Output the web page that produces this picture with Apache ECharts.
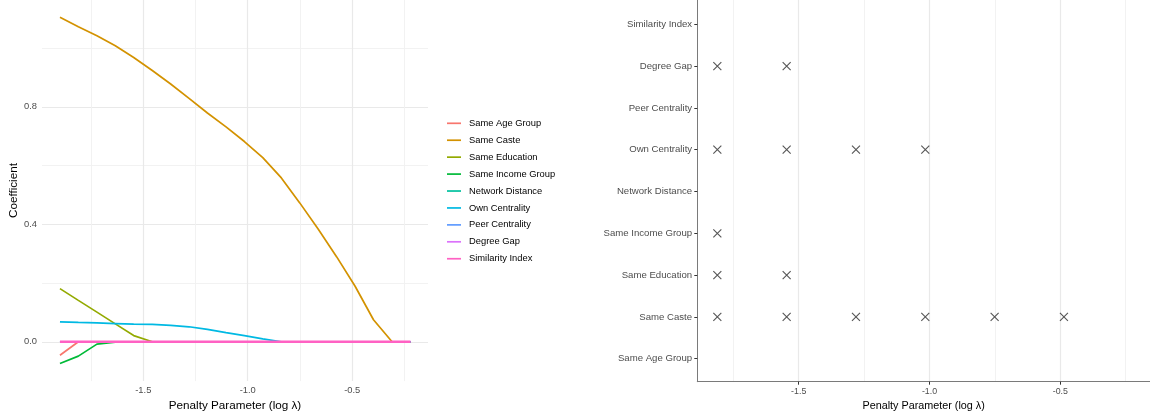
<!DOCTYPE html>
<html>
<head>
<meta charset="utf-8">
<script src="https://cdn.jsdelivr.net/npm/echarts@6/dist/echarts.min.js"></script>
<style>
  html, body { margin: 0; padding: 0; background: #fff; }
  #chart { width: 1150px; height: 417px; }
</style>
</head>
<body>
<div id="chart"></div>
<script>
// Lasso path: penalty grid (log lambda) and coefficient estimates per predictor
const logLambda = [-1.899, -1.811, -1.722, -1.634, -1.546, -1.457, -1.369, -1.281, -1.193, -1.104,
                   -1.016, -0.928, -0.839, -0.751, -0.663, -0.574, -0.486, -0.398, -0.309, -0.221];

const predictors = ['Same Age Group', 'Same Caste', 'Same Education', 'Same Income Group',
                    'Network Distance', 'Own Centrality', 'Peer Centrality', 'Degree Gap', 'Similarity Index'];

const sameAgeGroup    = [-0.046, 0, 0, 0, 0, 0, 0, 0, 0, 0, 0, 0, 0, 0, 0, 0, 0, 0, 0, 0];
const sameCaste       = [1.105, 1.073, 1.042, 1.008, 0.968, 0.924, 0.878, 0.829, 0.779, 0.732,
                         0.682, 0.627, 0.558, 0.473, 0.384, 0.289, 0.189, 0.075, 0, 0];
const sameEducation   = [0.181, 0.141, 0.101, 0.061, 0.021, 0, 0, 0, 0, 0, 0, 0, 0, 0, 0, 0, 0, 0, 0, 0];
const sameIncomeGroup = [-0.074, -0.049, -0.008, -0.001, 0, 0, 0, 0, 0, 0, 0, 0, 0, 0, 0, 0, 0, 0, 0, 0];
const networkDistance = [0, 0, 0, 0, 0, 0, 0, 0, 0, 0, 0, 0, 0, 0, 0, 0, 0, 0, 0, 0];
const ownCentrality   = [0.068, 0.066, 0.064, 0.062, 0.060, 0.059, 0.056, 0.051, 0.042, 0.031,
                         0.021, 0.010, 0, 0, 0, 0, 0, 0, 0, 0];
const peerCentrality  = [0, 0, 0, 0, 0, 0, 0, 0, 0, 0, 0, 0, 0, 0, 0, 0, 0, 0, 0, 0];
const degreeGap       = [0, 0, 0, 0, 0, 0, 0, 0, 0, 0, 0, 0, 0, 0, 0, 0, 0, 0, 0, 0];
const similarityIndex = [0, 0, 0, 0, 0, 0, 0, 0, 0, 0, 0, 0, 0, 0, 0, 0, 0, 0, 0, 0];

// Penalty values at which each predictor is selected (right panel)
const selSameCaste      = [-1.811, -1.546, -1.281, -1.016, -0.751, -0.486];
const selSameEducation  = [-1.811, -1.546];
const selSameIncome     = [-1.811];
const selOwnCentrality  = [-1.811, -1.546, -1.281, -1.016];
const selDegreeGap      = [-1.811, -1.546];

// Tick labels
const coefTicks = [0, 0.4, 0.8];
const coefMinorTicks = [0.2, 0.6, 1.0];
const lambdaTicks = [-1.5, -1.0, -0.5];
const lambdaMinorTicks = [-1.75, -1.25, -0.75, -0.25];

const paths = [sameAgeGroup, sameCaste, sameEducation, sameIncomeGroup, networkDistance,
               ownCentrality, peerCentrality, degreeGap, similarityIndex];
const palette = ['#F8766D', '#D39200', '#93AA00', '#00BA38', '#00C19F', '#00B9E3', '#619CFF', '#DB72FB', '#FF61C3'];

const selections = [
  ['Same Caste', selSameCaste],
  ['Same Education', selSameEducation],
  ['Same Income Group', selSameIncome],
  ['Own Centrality', selOwnCentrality],
  ['Degree Gap', selDegreeGap]
];

const FONT = 'Liberation Sans, Arial, Helvetica, sans-serif';
const AX_TEXT = { color: '#4d4d4d', fontSize: 9.35, fontFamily: FONT };
const TITLE_TEXT = { color: '#000', fontSize: 11.7, fontFamily: FONT };
const SEL_Y_TEXT = { color: '#4d4d4d', fontSize: 9.6, fontFamily: FONT };
const SEL_X_TEXT = { color: '#4d4d4d', fontSize: 8.8, fontFamily: FONT };
const SEL_TITLE_TEXT = { color: '#000', fontSize: 10.8, fontFamily: FONT };
const GRID_MAJOR = { show: true, lineStyle: { color: '#e9e9e9', width: 1.2 } };
const GRID_MINOR = { show: true, lineStyle: { color: '#f0f0f0', width: 0.9 } };

const fmtLambda = v => (v === 0 ? '0' : v.toFixed(1));

const lineSeries = predictors.map((name, i) => ({
  name: name,
  type: 'line',
  xAxisIndex: 0,
  yAxisIndex: 0,
  symbol: 'none',
  silent: true,
  // the last path is drawn on top of the shared zero line
  lineStyle: { color: palette[i], width: i === predictors.length - 1 ? 2.6 : 1.7 },
  itemStyle: { color: palette[i] },
  data: logLambda.map((x, k) => [x, paths[i][k]])
}));

const selPoints = [];
selections.forEach(([name, xs]) => {
  const idx = predictors.indexOf(name);
  xs.forEach(x => selPoints.push([x, idx]));
});

const option = {
  animation: false,
  backgroundColor: '#fff',
  textStyle: { fontFamily: FONT },
  legend: {
    data: predictors,
    orient: 'vertical',
    left: 447,
    top: 117.3,
    padding: 0,
    icon: 'rect',
    itemWidth: 14,
    itemHeight: 1.7,
    itemGap: 4.93,
    selectedMode: false,
    textStyle: { color: '#000', fontSize: 9.35, lineHeight: 12, fontFamily: FONT, padding: [0, 0, 0, 3] }
  },
  grid: [
    { left: 42, right: 722, top: 0, bottom: 35.3 },
    { left: 697.3, right: 0, top: 0, bottom: 33.3 }
  ],
  xAxis: [
    {
      type: 'value', gridIndex: 0, min: -1.985, max: -0.137,
      name: 'Penalty Parameter (log λ)', nameLocation: 'middle', nameGap: 15,
      nameTextStyle: TITLE_TEXT,
      axisLine: { show: false, onZero: false },
      axisTick: { show: false, customValues: lambdaTicks },
      axisLabel: { customValues: lambdaTicks, formatter: fmtLambda, margin: 5, ...AX_TEXT },
      splitLine: GRID_MAJOR
    },
    {
      type: 'value', gridIndex: 0, min: -1.985, max: -0.137,
      axisLine: { show: false, onZero: false },
      axisTick: { show: false, customValues: lambdaMinorTicks },
      axisLabel: { show: false },
      splitLine: GRID_MINOR
    },
    {
      type: 'value', gridIndex: 1, min: -1.8876, max: -0.157,
      name: 'Penalty Parameter (log λ)', nameLocation: 'middle', nameGap: 15,
      nameTextStyle: SEL_TITLE_TEXT,
      axisLine: { show: true, onZero: false, lineStyle: { color: '#7a7a7a', width: 1 } },
      axisTick: { show: true, length: 3, customValues: lambdaTicks, lineStyle: { color: '#333' } },
      axisLabel: { customValues: lambdaTicks, formatter: fmtLambda, margin: 5.4, ...SEL_X_TEXT },
      splitLine: GRID_MAJOR
    },
    {
      type: 'value', gridIndex: 1, min: -1.8876, max: -0.157,
      axisLine: { show: false, onZero: false },
      axisTick: { show: false, customValues: lambdaMinorTicks },
      axisLabel: { show: false },
      splitLine: GRID_MINOR
    }
  ],
  yAxis: [
    {
      type: 'value', gridIndex: 0, min: -0.134, max: 1.164,
      name: 'Coefficient', nameLocation: 'middle', nameGap: 20, nameRotate: 90,
      nameTextStyle: TITLE_TEXT,
      axisLine: { show: false, onZero: false },
      axisTick: { show: false, customValues: coefTicks },
      axisLabel: { customValues: coefTicks, formatter: v => v.toFixed(1), margin: 5, ...AX_TEXT },
      splitLine: GRID_MAJOR
    },
    {
      type: 'value', gridIndex: 0, min: -0.134, max: 1.164, position: 'left',
      axisLine: { show: false, onZero: false },
      axisTick: { show: false, customValues: coefMinorTicks },
      axisLabel: { show: false },
      splitLine: GRID_MINOR
    },
    {
      type: 'value', gridIndex: 1, min: -0.55, max: 8.58,
      axisLine: { show: true, onZero: false, lineStyle: { color: '#7a7a7a', width: 1 } },
      axisTick: { show: true, length: 3, customValues: predictors.map((_, i) => i), lineStyle: { color: '#333' } },
      axisLabel: {
        customValues: predictors.map((_, i) => i),
        formatter: v => predictors[Math.round(v)],
        margin: 5.2, ...SEL_Y_TEXT
      },
      splitLine: { show: false }
    }
  ],
  series: [
    ...lineSeries,
    {
      type: 'scatter',
      xAxisIndex: 2,
      yAxisIndex: 2,
      silent: true,
      symbol: 'path://M0,0L10,10M10,0L0,10',
      symbolSize: 8,
      itemStyle: { color: 'none', borderColor: '#2b2b2b', borderWidth: 1.1 },
      data: selPoints
    }
  ]
};

const chart = echarts.init(document.getElementById('chart'), null, { renderer: 'canvas' });
chart.setOption(option);
</script>
</body>
</html>
